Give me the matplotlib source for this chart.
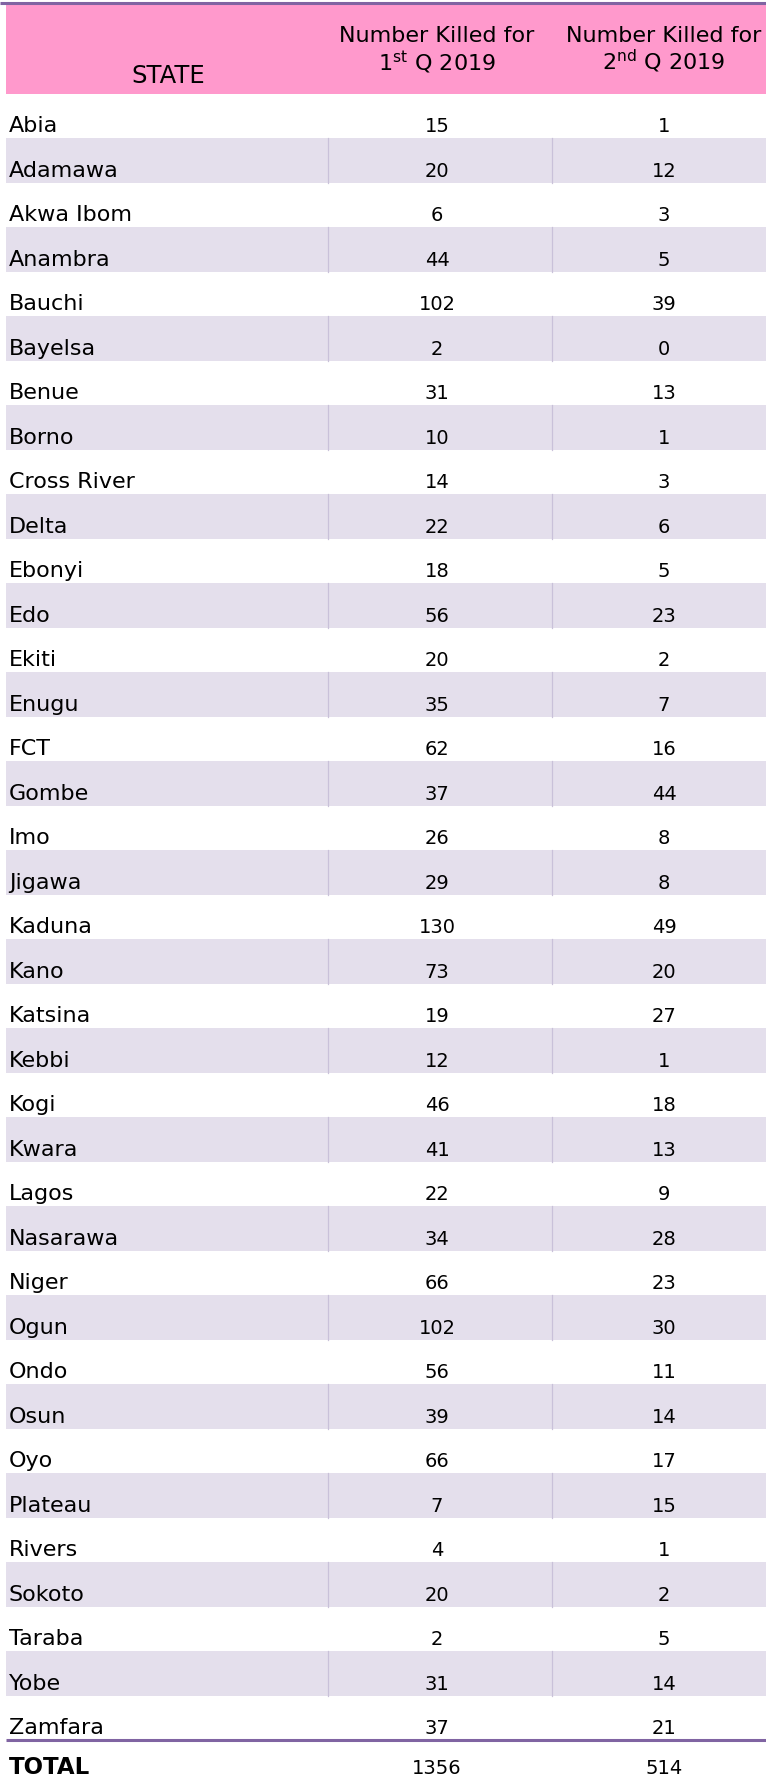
import matplotlib
matplotlib.use("Agg")
import matplotlib.pyplot as plt
import matplotlib.patches as mpatches

# data
states = ["Abia", "Adamawa", "Akwa Ibom", "Anambra", "Bauchi", "Bayelsa", "Benue",
          "Borno", "Cross River", "Delta", "Ebonyi", "Edo", "Ekiti", "Enugu", "FCT",
          "Gombe", "Imo", "Jigawa", "Kaduna", "Kano", "Katsina", "Kebbi", "Kogi",
          "Kwara", "Lagos", "Nasarawa", "Niger", "Ogun", "Ondo", "Osun", "Oyo",
          "Plateau", "Rivers", "Sokoto", "Taraba", "Yobe", "Zamfara"]
q1_killed = [15, 20, 6, 44, 102, 2, 31, 10, 14, 22, 18, 56, 20, 35, 62, 37, 26, 29,
             130, 73, 19, 12, 46, 41, 22, 34, 66, 102, 56, 39, 66, 7, 4, 20, 2, 31, 37]
q2_killed = [1, 12, 3, 5, 39, 0, 13, 1, 3, 6, 5, 23, 2, 7, 16, 44, 8, 8,
             49, 20, 27, 1, 18, 13, 9, 28, 23, 30, 11, 14, 17, 15, 1, 2, 5, 14, 21]
header_state = "STATE"
header_q1 = ["Number Killed for", r"1$^{\mathrm{st}}$ Q 2019"]
header_q2 = ["Number Killed for", r"2$^{\mathrm{nd}}$ Q 2019"]
total_label = "TOTAL"

plt.rcParams['font.family'] = ['DejaVu Sans']
plt.rcParams['mathtext.default'] = 'regular'

W, H = 766, 1782
PINK = "#ff99cc"
LAV = "#e4dfec"
PURPLE = "#8064a2"
GRID = "#c9c1d9"

fig = plt.figure(figsize=(W / 100, H / 100), dpi=100)
ax = fig.add_axes([0, 0, 1, 1])
ax.set_xlim(0, W)
ax.set_ylim(H, 0)
ax.axis("off")

# column layout
left = 6
col_edges = [left, 328, 552, W]
name_x = 9
c1_x = 437
c2_x = 664

head_top, head_bot = 5, 94
row_h = (1740 - head_bot) / len(states)

# header
ax.add_patch(mpatches.Rectangle((left, head_top), W - left, head_bot - head_top,
                                fc=PINK, ec="none"))
ax.plot([0, W], [3, 3], color=PURPLE, lw=2.2, solid_capstyle="butt")
ax.text(168, 83, header_state, ha="center", va="baseline", fontsize=17.5)
for cx, lines in [(c1_x, header_q1), (c2_x, header_q2)]:
    ax.text(cx, 42, lines[0], ha="center", va="baseline", fontsize=16)
    ax.text(cx, 70, lines[1], ha="center", va="baseline", fontsize=16)

# body rows
for i, (st, a, b) in enumerate(zip(states, q1_killed, q2_killed)):
    top = head_bot + i * row_h
    if i % 2 == 1:
        ax.add_patch(mpatches.Rectangle((left, top), W - left, row_h, fc=LAV, ec="none"))
        for xe in col_edges[1:3]:
            ax.plot([xe, xe], [top, top + row_h], color=GRID, lw=0.9)
    base = top + row_h - 6
    ax.text(name_x, base, st, ha="left", va="baseline", fontsize=16)
    ax.text(c1_x, base, str(a), ha="center", va="baseline", fontsize=14)
    ax.text(c2_x, base, str(b), ha="center", va="baseline", fontsize=14)

# total row
line_y = head_bot + len(states) * row_h
ax.plot([left, W], [line_y, line_y], color=PURPLE, lw=2.2, solid_capstyle="butt")
ax.text(name_x, 1774, total_label, ha="left", va="baseline", fontsize=16.5, fontweight="bold")
ax.text(c1_x, 1774, str(sum(q1_killed)), ha="center", va="baseline", fontsize=14)
ax.text(c2_x, 1774, str(sum(q2_killed)), ha="center", va="baseline", fontsize=14)

fig.savefig("out.png", dpi=100)
